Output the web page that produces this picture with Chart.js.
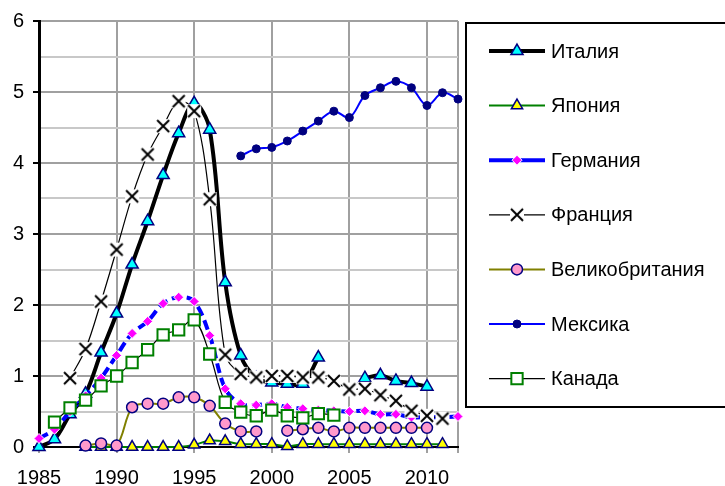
<!DOCTYPE html>
<html>
<head>
<meta charset="utf-8">
<script src="https://cdn.jsdelivr.net/npm/chart.js@4.4.1/dist/chart.umd.min.js"></script>
<style>
  html, body { margin: 0; padding: 0; background: #fff; }
  canvas { display: block; }
</style>
</head>
<body>
<canvas id="chart" width="725" height="486"></canvas>
<script>
const years = [1985, 1986, 1987, 1988, 1989, 1990, 1991, 1992, 1993, 1994,
               1995, 1996, 1997, 1998, 1999, 2000, 2001, 2002, 2003, 2004,
               2005, 2006, 2007, 2008, 2009, 2010, 2011, 2012];

const italy = [0.00, 0.11, 0.46, 0.75, 1.33, 1.88, 2.57, 3.18, 3.83, 4.42,
               4.84, 4.47, 2.32, 1.29, 0.97, 0.91, 0.89, 0.89, 1.26, null,
               null, 0.97, 1.01, 0.93, 0.90, 0.85, null, null];
const japan = [null, null, null, 0.00, 0.00, 0.00, 0.00, 0.00, 0.00, 0.00,
               0.03, 0.09, 0.08, 0.04, 0.04, 0.04, 0.01, 0.04, 0.04, 0.04,
               0.04, 0.04, 0.04, 0.04, 0.04, 0.04, 0.04, null];
const germany = [0.12, 0.25, 0.50, 0.72, 0.97, 1.29, 1.60, 1.77, 2.02, 2.11,
                 2.05, 1.57, 0.82, 0.61, 0.59, 0.61, 0.56, 0.54, 0.52, 0.51,
                 0.50, 0.51, 0.46, 0.46, 0.42, 0.42, 0.42, 0.43];
const france = [null, null, 0.97, 1.38, 2.05, 2.78, 3.53, 4.12, 4.52, 4.87,
                4.73, 3.49, 1.30, 1.03, 0.98, 1.00, 1.00, 0.98, 0.98, 0.93,
                0.81, 0.82, 0.73, 0.65, 0.51, 0.44, 0.40, null];
const uk = [null, null, null, 0.02, 0.05, 0.02, 0.56, 0.61, 0.61, 0.70,
            0.70, 0.58, 0.33, 0.22, 0.22, null, 0.23, 0.25, 0.27, 0.22,
            0.27, 0.27, 0.27, 0.27, 0.27, 0.27, null, null];
const mexico = [null, null, null, null, null, null, null, null, null, null,
                null, null, null, 4.10, 4.20, 4.22, 4.31, 4.45, 4.59, 4.73,
                4.64, 4.95, 5.06, 5.15, 5.06, 4.81, 4.99, 4.90];
const canada = [null, 0.35, 0.55, 0.66, 0.86, 1.00, 1.19, 1.37, 1.58, 1.65,
                1.79, 1.31, 0.63, 0.49, 0.44, 0.52, 0.44, 0.41, 0.47, 0.45,
                null, null, null, null, null, null, null, null];

const seriesNames = ['Италия', 'Япония', 'Германия', 'Франция', 'Великобритания', 'Мексика', 'Канада'];

const FONT = 'Arial, "Liberation Sans", sans-serif';

// X marker with a white box behind it, like the Excel one
function makeCross(size) {
    const c = document.createElement('canvas');
    c.width = size;
    c.height = size;
    const g = c.getContext('2d');
    g.fillStyle = '#ffffff';
    g.fillRect(1, 1, size - 2, size - 2);
    g.strokeStyle = '#000000';
    g.lineWidth = 2;
    g.beginPath();
    g.moveTo(2, 2); g.lineTo(size - 2, size - 2);
    g.moveTo(size - 2, 2); g.lineTo(2, size - 2);
    g.stroke();
    return c;
}
const crossMark = makeCross(16);

const datasets = [
    {label: seriesNames[0], data: italy, borderColor: '#000000', borderWidth: 4,
     pointStyle: 'triangle', pointRadius: 7, pointBackgroundColor: '#00ffff',
     pointBorderColor: '#000080', pointBorderWidth: 1.5, order: 7},
    {label: seriesNames[1], data: japan, borderColor: '#008000', borderWidth: 2,
     pointStyle: 'triangle', pointRadius: 6.5, pointBackgroundColor: '#ffff00',
     pointBorderColor: '#000080', pointBorderWidth: 1.5, order: 6},
    {label: seriesNames[2], data: germany, borderColor: '#0000ff', borderWidth: 4,
     borderDash: [10, 5], pointStyle: 'rectRot', pointRadius: 5,
     pointBackgroundColor: '#ff00ff', pointBorderColor: '#ffffff', pointBorderWidth: 1, order: 5},
    {label: seriesNames[3], data: france, borderColor: '#000000', borderWidth: 1.2,
     pointStyle: crossMark, pointRadius: 7, order: 4},
    {label: seriesNames[4], data: uk, borderColor: '#808000', borderWidth: 2,
     pointStyle: 'circle', pointRadius: 5.5, pointBackgroundColor: '#ff99cc',
     pointBorderColor: '#000080', pointBorderWidth: 1.5, order: 3},
    {label: seriesNames[5], data: mexico, borderColor: '#0000ff', borderWidth: 2,
     pointStyle: 'circle', pointRadius: 4, pointBackgroundColor: '#000080',
     pointBorderColor: '#000080', pointBorderWidth: 1, order: 2},
    {label: seriesNames[6], data: canada, borderColor: '#000000', borderWidth: 1.2,
     pointStyle: 'rect', pointRadius: 8, pointBackgroundColor: '#ffffff',
     pointBorderColor: '#008000', pointBorderWidth: 2, order: 1}
];
datasets.forEach(ds => {
    ds.tension = 0.35;
    ds.clip = false;
    ds.spanGaps = false;
    ds.pointHoverRadius = ds.pointRadius;
});

// legend box drawn on the canvas, line + marker like in Excel
const boxLegend = {
    id: 'boxLegend',
    afterDraw(chart) {
        const ctx = chart.ctx;
        ctx.save();
        ctx.strokeStyle = '#000';
        ctx.lineWidth = 2;
        ctx.strokeRect(466, 23, 270, 384);
        chart.data.datasets.forEach((ds, i) => {
            const y = 51 + i * 54.6;
            ctx.setLineDash([]);
            ctx.strokeStyle = ds.borderColor;
            ctx.lineWidth = ds.borderWidth;
            ctx.beginPath();
            ctx.moveTo(489, y);
            ctx.lineTo(545, y);
            ctx.stroke();
            ctx.fillStyle = ds.pointBackgroundColor || '#fff';
            ctx.strokeStyle = ds.pointBorderColor || '#000';
            ctx.lineWidth = ds.pointBorderWidth || 1;
            Chart.helpers.drawPoint(ctx, {
                pointStyle: ds.pointStyle, radius: ds.pointRadius, rotation: 0,
                borderWidth: ds.pointBorderWidth || 0
            }, 517, y);
            ctx.fillStyle = '#000';
            ctx.font = '20px ' + FONT;
            ctx.textBaseline = 'middle';
            ctx.textAlign = 'left';
            ctx.fillText(ds.label, 551, y + 1);
        });
        ctx.restore();
    }
};

new Chart(document.getElementById('chart'), {
    type: 'line',
    data: {labels: years, datasets: datasets},
    plugins: [boxLegend],
    options: {
        responsive: false,
        animation: false,
        layout: {padding: {top: 19, right: 267, left: 0, bottom: 0}},
        plugins: {
            legend: {display: false},
            title: {display: false},
            tooltip: {enabled: false}
        },
        scales: {
            x: {
                type: 'category',
                offset: false,
                afterFit: (scale) => { scale.height = 39; },
                border: {color: '#000', width: 2},
                grid: {
                    lineWidth: 2,
                    tickLength: 6,
                    color: (c) => (years[c.index] % 5 === 0 || c.index === years.length - 1) ? '#a0a0a0' : 'rgba(0,0,0,0)'
                },
                ticks: {
                    autoSkip: false,
                    maxRotation: 0,
                    padding: 13,
                    color: '#000',
                    font: {size: 20, family: FONT},
                    callback: (val, i) => years[i] % 5 === 0 ? String(years[i]) : ''
                }
            },
            y: {
                min: 0,
                max: 6,
                afterFit: (scale) => { scale.width = 39; },
                border: {color: '#000', width: 3},
                grid: {
                    lineWidth: 2,
                    tickLength: 6,
                    color: (c) => (c.tick.value % 1 === 0) ? '#a0a0a0' : '#c8c8c8',
                    tickColor: (c) => (c.tick.value % 1 === 0) ? '#000' : 'rgba(0,0,0,0)'
                },
                ticks: {
                    stepSize: 0.5,
                    padding: 9,
                    color: '#000',
                    font: {size: 20, family: FONT},
                    callback: (v) => v % 1 === 0 ? String(v) : ''
                }
            }
        }
    }
});
</script>
</body>
</html>
